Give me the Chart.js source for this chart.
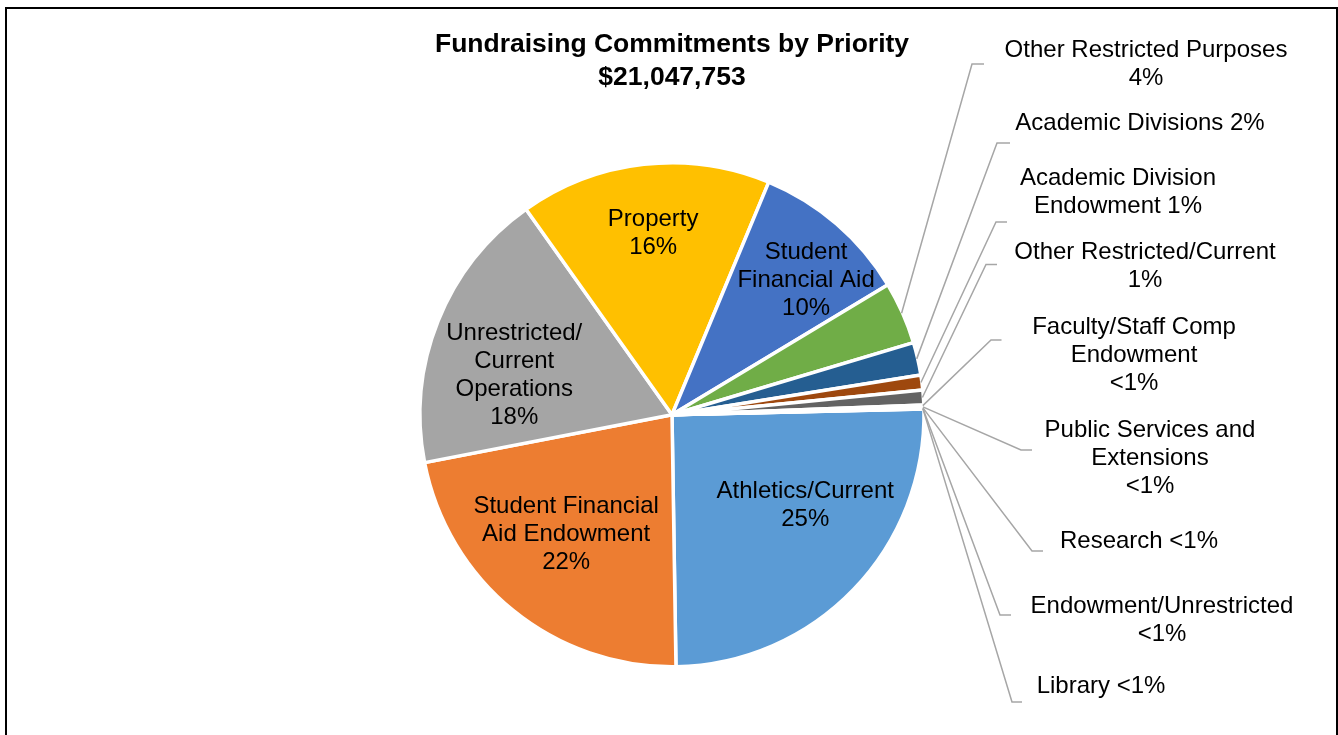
<!DOCTYPE html>
<html>
<head>
<meta charset="utf-8">
<script src="https://cdn.jsdelivr.net/npm/chart.js@4.4.1/dist/chart.umd.min.js"></script>
<style>
  html, body { margin: 0; padding: 0; background: #fff; overflow: hidden; }
  #frame { position: absolute; left: 5px; top: 7px; width: 1333px; height: 800px; border: 2px solid #000; box-sizing: border-box; }
  #wrap { position: absolute; left: 0; top: 0; width: 1338px; height: 735px; }
</style>
</head>
<body>
<div id="frame"></div>
<div id="wrap"><canvas id="c"></canvas></div>
<script>
// ---------------- data ----------------
const titleLines = ['Fundraising Commitments by Priority', '$21,047,753'];

const categories = [
  'Athletics/Current',
  'Student Financial Aid Endowment',
  'Unrestricted/Current Operations',
  'Property',
  'Student Financial Aid',
  'Other Restricted Purposes',
  'Academic Divisions',
  'Academic Division Endowment',
  'Other Restricted/Current',
  'Faculty/Staff Comp Endowment',
  'Public Services and Extensions',
  'Research',
  'Endowment/Unrestricted',
  'Library'
];

// share of total commitments, percent
const shares = [25.1, 22.2, 18.2, 16.1, 10.1, 4.0, 2.1, 0.95, 0.95, 0.09, 0.07, 0.05, 0.03, 0.02];

// label text as shown on the chart (wrapped lines)
const labelLines = [
  ['Athletics/Current', '25%'],
  ['Student Financial', 'Aid Endowment', '22%'],
  ['Unrestricted/', 'Current', 'Operations', '18%'],
  ['Property', '16%'],
  ['Student', 'Financial Aid', '10%'],
  ['Other Restricted Purposes', '4%'],
  ['Academic Divisions 2%'],
  ['Academic Division', 'Endowment 1%'],
  ['Other Restricted/Current', '1%'],
  ['Faculty/Staff Comp', 'Endowment', '<1%'],
  ['Public Services and', 'Extensions', '<1%'],
  ['Research <1%'],
  ['Endowment/Unrestricted', '<1%'],
  ['Library <1%']
];

// ---------------- styles / layout ----------------
const sliceColors = ['#5B9BD5', '#ED7D31', '#A5A5A5', '#FFC000', '#4472C4', '#70AD47', '#255E91',
                     '#9E480E', '#636363', '#997300', '#264478', '#43682B', '#7CAFDD', '#F1975A'];

// inside labels: angle tweak (deg) from slice middle, and radius fraction
const insideLayout = {
  0: { dAngle: -9.6, rFrac: 0.64 },
  1: { dAngle: 2.5, rFrac: 0.633 },
  2: { dAngle: -7.9, rFrac: 0.645 },
  3: { dAngle: 0.5, rFrac: 0.725 },
  4: { dAngle: 4.2, rFrac: 0.753 }
};

// outside labels: text centre x, first line middle y, leader elbow and end
const outsideLayout = {
  5:  { x: 1146, y: 50,    ex: 972,  ey: 64,  endX: 984 },
  6:  { x: 1140, y: 123.7, ex: 997,  ey: 143, endX: 1010 },
  7:  { x: 1118, y: 178.3, ex: 996,  ey: 222, endX: 1007 },
  8:  { x: 1145, y: 252,   ex: 986,  ey: 264.5, endX: 997 },
  9:  { x: 1134, y: 327.3, ex: 991,  ey: 340, endX: 1001.5 },
  10: { x: 1150, y: 430.7, ex: 1021, ey: 450, endX: 1032 },
  11: { x: 1139, y: 541,   ex: 1032, ey: 551, endX: 1043 },
  12: { x: 1162, y: 606,   ex: 1000, ey: 615, endX: 1011 },
  13: { x: 1101, y: 686,   ex: 1012, ey: 702, endX: 1022 }
};

const FONT = "'Liberation Sans', Arial, sans-serif";
Chart.defaults.font.family = FONT;

const labelPlugin = {
  id: 'sliceLabels',
  afterDatasetsDraw(chart) {
    const ctx = chart.ctx;
    const arcs = chart.getDatasetMeta(0).data;
    ctx.save();
    ctx.font = '24px ' + FONT;
    ctx.fillStyle = '#000';
    ctx.textAlign = 'center';
    ctx.textBaseline = 'middle';
    const LH = 28;

    // inside labels
    Object.keys(insideLayout).forEach(k => {
      const i = +k;
      const a = arcs[i];
      const L = insideLayout[i];
      const mid = (a.startAngle + a.endAngle) / 2 + L.dAngle * Math.PI / 180;
      const r = a.outerRadius * L.rFrac;
      const cx = a.x + Math.cos(mid) * r;
      const cy = a.y + Math.sin(mid) * r;
      const lines = labelLines[i];
      const y0 = cy - (lines.length - 1) * LH / 2;
      lines.forEach((t, j) => ctx.fillText(t, cx, y0 + j * LH));
    });

    // outside labels with leader lines
    ctx.strokeStyle = '#A6A6A6';
    ctx.lineWidth = 1.5;
    Object.keys(outsideLayout).forEach(k => {
      const i = +k;
      const a = arcs[i];
      const L = outsideLayout[i];
      const mid = (a.startAngle + a.endAngle) / 2;
      const r = a.outerRadius - 1;
      const sx = a.x + Math.cos(mid) * r;
      const sy = a.y + Math.sin(mid) * r;
      ctx.beginPath();
      ctx.moveTo(sx, sy);
      ctx.lineTo(L.ex, L.ey);
      ctx.lineTo(L.endX, L.ey);
      ctx.stroke();
      labelLines[i].forEach((t, j) => ctx.fillText(t, L.x, L.y + j * LH));
    });
    ctx.restore();
  }
};

new Chart(document.getElementById('c'), {
  type: 'pie',
  data: {
    labels: categories,
    datasets: [{
      data: shares,
      backgroundColor: sliceColors,
      borderColor: '#FFFFFF',
      borderWidth: 3.5
    }]
  },
  options: {
    responsive: true,
    maintainAspectRatio: false,
    animation: false,
    rotation: 88.7,
    radius: 252,
    layout: { padding: { top: 7, left: 6, right: 0, bottom: 0 } },
    plugins: {
      legend: { display: false },
      tooltip: { enabled: false },
      title: {
        display: true,
        text: titleLines,
        color: '#000',
        font: { family: FONT, size: 26.5, weight: 'bold', lineHeight: 1.245 },
        padding: { top: 21.5, bottom: 0 }
      }
    }
  },
  plugins: [labelPlugin]
});
</script>
</body>
</html>
